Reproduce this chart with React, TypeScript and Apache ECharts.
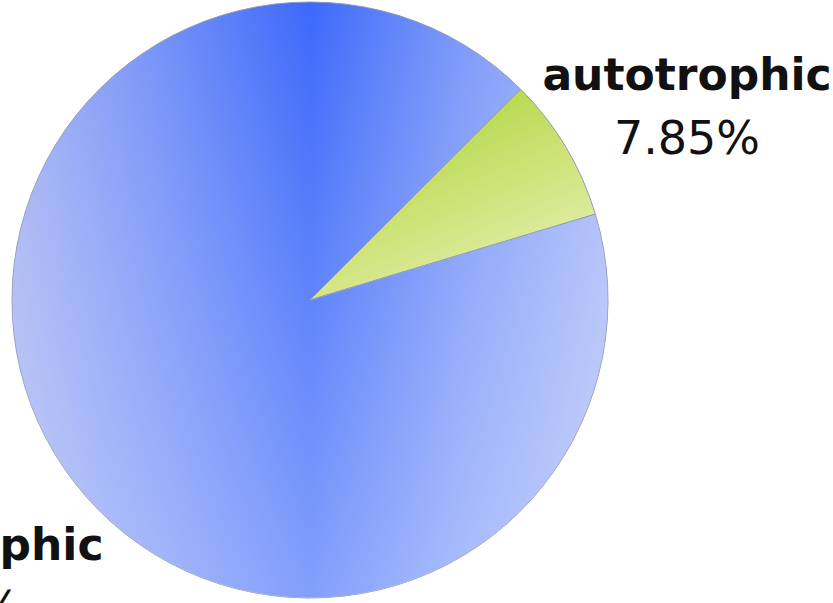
import React, { useEffect, useRef } from "react";
import * as echarts from "echarts";

const categories = ["autotrophic", "heterotrophic"];
const values = [7.85, 92.15];

const sliceColors = [
  {
    type: "linear",
    x: 0.2,
    y: 0,
    x2: 0.8,
    y2: 1,
    colorStops: [
      { offset: 0, color: "#aad236" },
      { offset: 0.55, color: "#cfe37a" },
      { offset: 1, color: "#e8f1bc" },
    ],
  },
  {
    type: "linear",
    x: 0,
    y: 0,
    x2: 1,
    y2: 0,
    colorStops: [
      { offset: 0, color: "#a6b3f3" },
      { offset: 0.25, color: "#7390f8" },
      { offset: 0.5, color: "#3d69fa" },
      { offset: 0.75, color: "#7b98f9" },
      { offset: 1, color: "#aabbf8" },
    ],
  },
];

// soft vertical lightening laid over the large slice
const overlayColors = [
  "rgba(255,255,255,0)",
  {
    type: "linear",
    x: 0,
    y: 0,
    x2: 0,
    y2: 1,
    colorStops: [
      { offset: 0, color: "rgba(255,255,255,0)" },
      { offset: 0.5, color: "rgba(255,255,255,0.18)" },
      { offset: 1, color: "rgba(255,255,255,0.36)" },
    ],
  },
];

// label anchor positions (centre of the two-line label block), in pixels
const labelAnchors = [
  [687, 106],
  [-67, 576],
];

export default function App() {
  const ref = useRef<HTMLDivElement>(null);
  useEffect(() => {
    document.body.style.margin = "0";
    const chart = echarts.init(ref.current!, null, { renderer: "svg" });
    const font = "'DejaVu Sans', sans-serif";
    const center = [310, 300];
    const radius = 298;
    chart.setOption({
      animation: false,
      backgroundColor: "#ffffff",
      series: [
        {
          type: "pie",
          center,
          radius,
          startAngle: 45,
          clockwise: true,
          percentPrecision: 2,
          data: categories.map((name, i) => ({
            name,
            value: values[i],
            itemStyle: { color: sliceColors[i] },
          })),
          itemStyle: { borderColor: "#8e9ab4", borderWidth: 1 },
          labelLine: { show: false },
          label: {
            show: true,
            position: "outside",
            width: 420,
            overflow: "none",
            formatter: "{n|{b}}\n{p|{d}%}",
            rich: {
              n: {
                fontFamily: font,
                fontWeight: "bold",
                fontSize: 44,
                lineHeight: 63,
                color: "#111111",
                align: "center",
              },
              p: {
                fontFamily: font,
                fontSize: 46,
                lineHeight: 63,
                color: "#111111",
                align: "center",
              },
            },
          },
          labelLayout: (params: any) => {
            const a = labelAnchors[params.dataIndex];
            return { x: a[0], y: a[1], align: "center", verticalAlign: "middle" };
          },
          emphasis: { disabled: true },
        },
        {
          type: "pie",
          center,
          radius,
          startAngle: 45,
          clockwise: true,
          silent: true,
          z: 3,
          data: categories.map((name, i) => ({
            name,
            value: values[i],
            itemStyle: { color: overlayColors[i] },
          })),
          itemStyle: { borderWidth: 0 },
          label: { show: false },
          labelLine: { show: false },
          emphasis: { disabled: true },
        },
      ],
    });
    return () => chart.dispose();
  }, []);
  return (
    <div
      ref={ref}
      style={{ position: "absolute", left: 0, top: 0, width: 833, height: 603 }}
    />
  );
}
